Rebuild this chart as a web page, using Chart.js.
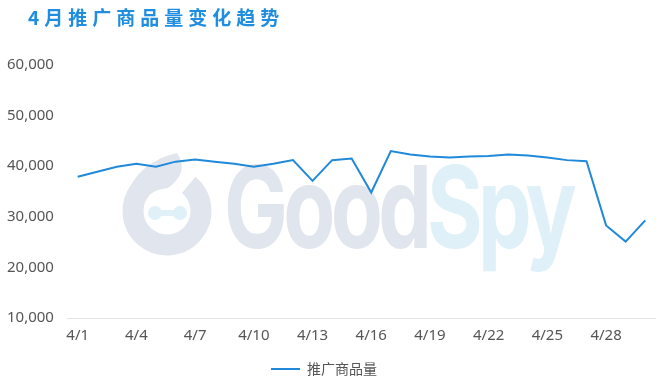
<!DOCTYPE html>
<html>
<head>
<meta charset="utf-8">
<script src="https://cdn.jsdelivr.net/npm/chart.js@4"></script>
<style>
html,body{margin:0;padding:0;background:#fff;}
#wrap{position:relative;width:667px;height:391px;}
#title{position:absolute;left:28px;top:3px;font-family:"Noto Sans CJK SC","Noto Sans",sans-serif;font-weight:bold;font-size:19px;letter-spacing:5px;color:#1f8de0;line-height:28px;}
canvas{position:absolute;left:0;top:0;}
</style>
</head>
<body>
<div id="wrap">
<canvas id="c" width="667" height="391"></canvas>
<div id="title">4月推广商品量变化趋势</div>
</div>
<script>
const categories = ['4/1','4/2','4/3','4/4','4/5','4/6','4/7','4/8','4/9','4/10','4/11','4/12','4/13','4/14','4/15','4/16','4/17','4/18','4/19','4/20','4/21','4/22','4/23','4/24','4/25','4/26','4/27','4/28','4/29','4/30'];
const seriesName = '推广商品量';
const seriesValues = [37900, 38900, 39900, 40500, 39900, 40900, 41300, 40900, 40500, 39900, 40500, 41200, 37100, 41200, 41500, 34800, 43000, 42300, 41900, 41700, 41900, 42000, 42300, 42100, 41700, 41200, 41000, 28300, 25100, 29300];
const yTicks = [10000, 20000, 30000, 40000, 50000, 60000];
const watermarkText = ['Good', 'Spy'];

const watermark = {
  id: 'watermark',
  beforeDatasetsDraw(chart) {
    const ctx = chart.ctx;
    ctx.save();
    const ring = '#e1e6ee';
    const cyan = '#dff0f8';
    // logo: thick ring with a drop-shaped tip
    ctx.strokeStyle = ring;
    ctx.lineWidth = 21;
    ctx.beginPath();
    ctx.arc(167, 211, 34, -0.28 * Math.PI, 1.3 * Math.PI);
    ctx.stroke();
    ctx.fillStyle = ring;
    ctx.beginPath();
    ctx.moveTo(126, 196);
    ctx.quadraticCurveTo(138, 162, 177, 153);
    ctx.quadraticCurveTo(190, 172, 168, 188);
    ctx.quadraticCurveTo(150, 190, 145, 200);
    ctx.closePath();
    ctx.fill();
    ctx.fillStyle = cyan;
    ctx.beginPath(); ctx.arc(155, 213, 7, 0, 2 * Math.PI); ctx.fill();
    ctx.beginPath(); ctx.arc(180, 213, 7, 0, 2 * Math.PI); ctx.fill();
    ctx.fillRect(155, 210, 25, 6);
    // text
    ctx.font = 'bold 108px Inter, "DejaVu Sans", sans-serif';
    try { ctx.letterSpacing = '-6px'; } catch (e) {}
    ctx.textBaseline = 'alphabetic';
    const w1 = ctx.measureText(watermarkText[0]).width;
    const w2 = ctx.measureText(watermarkText[1]).width;
    const sx = 348 / (w1 + w2);
    ctx.translate(224, 248);
    ctx.scale(sx, 1.06);
    ctx.fillStyle = ring;
    ctx.fillText(watermarkText[0], 0, 0);
    ctx.fillStyle = cyan;
    ctx.fillText(watermarkText[1], w1, 0);
    ctx.restore();
  }
};

new Chart(document.getElementById('c'), {
  type: 'line',
  data: {
    labels: categories,
    datasets: [{
      label: seriesName,
      data: seriesValues,
      borderColor: '#2189d9',
      backgroundColor: '#2189d9',
      borderWidth: 2,
      pointRadius: 0,
      pointHoverRadius: 0,
      tension: 0,
      fill: false
    }]
  },
  options: {
    responsive: false,
    animation: false,
    layout: { padding: { top: 65, right: 12, left: -7, bottom: 5 } },
    plugins: {
      title: { display: false },
      tooltip: { enabled: false },
      legend: {
        display: true,
        position: 'bottom',
        labels: {
          usePointStyle: true,
          pointStyle: 'line',
          pointStyleWidth: 29,
          color: '#555',
          font: { family: '"Noto Sans CJK SC", "Noto Sans", sans-serif', size: 14 },
          padding: 8
        }
      }
    },
    scales: {
      x: {
        offset: true,
        grid: { display: false, drawTicks: false },
        border: { display: true, color: '#e3e3e3', width: 1 },
        ticks: {
          autoSkip: false,
          maxRotation: 0,
          padding: 9,
          color: '#555',
          font: { family: '"Noto Sans", sans-serif', size: 15 },
          callback: function (v, i) { return i % 3 === 0 ? categories[i] : ''; }
        }
      },
      y: {
        min: yTicks[0],
        max: yTicks[yTicks.length - 1],
        afterBuildTicks: function (axis) { axis.ticks = yTicks.map(v => ({ value: v })); },
        grid: { display: false, drawTicks: false },
        border: { display: false },
        ticks: {
          padding: 14,
          color: '#555',
          font: { family: '"Noto Sans", sans-serif', size: 15 },
          callback: function (v) { return v.toLocaleString('en-US'); }
        }
      }
    }
  },
  plugins: [watermark]
});
</script>
</body>
</html>
